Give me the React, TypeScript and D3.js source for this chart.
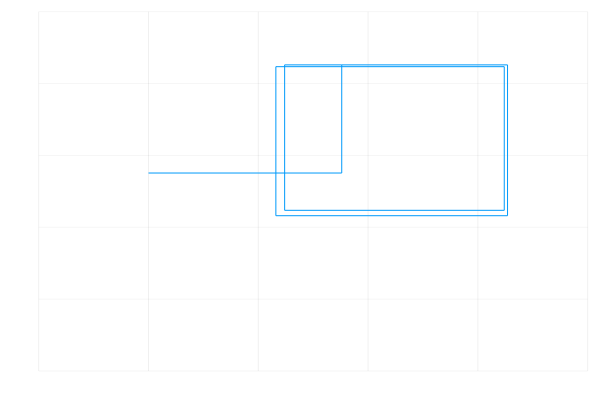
import React from "react";
import * as d3 from "d3";

const xTicks = [0, 1, 2, 3, 4, 5];
const yTicks = [0, 1, 2, 3, 4, 5];
const pathX = [1.0, 2.76, 2.76, 2.24, 2.24, 4.24, 4.24, 2.16, 2.16, 4.27, 4.27, 2.76];
const pathY = [2.755, 2.755, 4.26, 4.26, 2.236, 2.236, 4.235, 4.235, 2.161, 2.161, 4.26, 4.26];

export default function App() {
  const W = 600, H = 400;
  const x = d3.scaleLinear().domain([0, 5]).range([38.7, 587.7]);
  const y = d3.scaleLinear().domain([0, 5]).range([371, 11.7]);
  const pts: [number, number][] = pathX.map((v, i) => [v, pathY[i]]);
  const line = d3.line<[number, number]>().x(d => x(d[0])).y(d => y(d[1]));
  return (
    <svg width={W} height={H} style={{ position: "absolute", left: 0, top: 0, background: "#fff" }}>
      <rect x={0} y={0} width={W} height={H} fill="#fff" />
      <g>
        {xTicks.map(t => (
          <line key={"x" + t} x1={x(t)} x2={x(t)} y1={y(0)} y2={y(5)} stroke="#000" strokeOpacity={0.1} strokeWidth={0.6} />
        ))}
        {yTicks.map(t => (
          <line key={"y" + t} x1={x(0)} x2={x(5)} y1={y(t)} y2={y(t)} stroke="#000" strokeOpacity={0.07} strokeWidth={0.6} />
        ))}
      </g>
      <path d={line(pts) || ""} fill="none" stroke="#009AFA" strokeWidth={1} strokeLinejoin="round" />
    </svg>
  );
}
